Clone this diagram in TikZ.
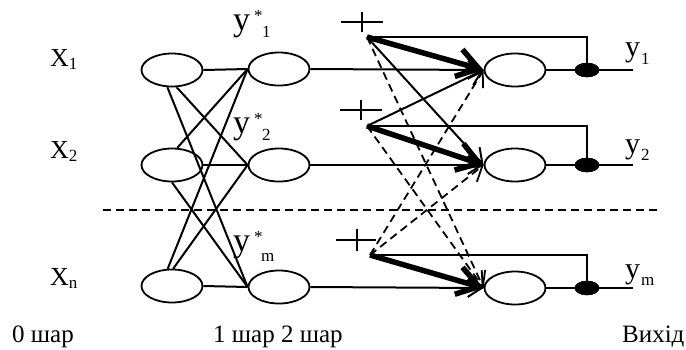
\documentclass[tikz,border=0pt]{standalone}
\usepackage{fontspec}
\setmainfont{Liberation Serif}
\usetikzlibrary{shapes.geometric,arrows.meta}
\newcommand\subsz{\fontsize{17}{17}\selectfont}
\begin{document}
\begin{tikzpicture}[x=1pt,y=-1pt,
  cell/.style={ellipse,draw,line width=1.8pt,minimum width=61pt,minimum height=33pt,inner sep=0pt},
  blackdot/.style={ellipse,fill=black,draw=black,minimum width=24pt,minimum height=14pt,inner sep=0pt},
  wire/.style={line width=2pt},
  thinarr/.style={line width=2pt,-{Straight Barb[length=14pt,width=18pt]}},
  thickarr/.style={line width=5.5pt,-{Straight Barb[length=21pt,width=28pt]}},
  dasharr/.style={line width=1.8pt,dash pattern=on 8pt off 5pt,-{Straight Barb[length=14pt,width=18pt]}},
  lbl/.style={anchor=base west,inner sep=0pt,font=\fontsize{25}{30}\selectfont},
  xlbl/.style={anchor=base west,inner sep=0pt,font=\fontsize{26}{30}\selectfont},
  ylbl/.style={anchor=base west,inner sep=0pt,font=\fontsize{34}{34}\selectfont},
  olbl/.style={anchor=base west,inner sep=0pt,font=\fontsize{30}{30}\selectfont},
]
\useasboundingbox (0,0) rectangle (686,349);

% layer 0
\node[cell] (x1) at (172,70) {};
\node[cell] (x2) at (172,165) {};
\node[cell] (x3) at (172,286) {};
% layer 1
\node[cell] (h1) at (279,69) {};
\node[cell] (h2) at (279,165) {};
\node[cell] (h3) at (279,287) {};
% layer 2
\node[cell] (n1) at (515,70) {};
\node[cell] (n2) at (515,165) {};
\node[cell] (n3) at (515,288) {};
% dots
\node[blackdot] (d1) at (587,70) {};
\node[blackdot] (d2) at (587,165) {};
\node[blackdot] (d3) at (587,288) {};
% output ends
\coordinate (o1) at (633,70);
\coordinate (o2) at (633,165);
\coordinate (o3) at (633,288);
% summation points
\coordinate (p1) at (367,37);
\coordinate (p2) at (367,126);
\coordinate (p3) at (370,255);

% separator
\draw[line width=1.6pt,dash pattern=on 8pt off 5pt] (103,210) -- (658,210);

% layer 0 -> layer 1
\draw[wire] (x1.east) -- (h1.west);
\draw[wire] (x1.-105) -- (h3.west);
\draw[wire] (x1.-75) -- (h2.west);
\draw[wire] (x2.73) -- (h1.west);
\draw[wire] (x2.east) -- (h2.west);
\draw[wire] (x2.-90) -- (h3.west);
\draw[wire] (x3.104) -- (h1.west);
\draw[wire] (x3.86) -- (h2.west);
\draw[wire] (x3.east) -- (h3.west);

% layer 1 -> layer 2
\draw[thinarr] (h1.east) -- (n1.west);
\draw[thinarr] (h2.east) -- (n2.west);
\draw[thinarr] (h3.east) -- (n3.west);

% cross connections
\draw[thinarr] (p1) -- (n2.west);
\draw[thinarr] (p2) -- (n1.west);
\draw[dasharr] (p1) -- (n3.west);
\draw[dasharr] (p2) -- (n3.west);
\draw[dasharr] (p3) -- (n1.west);
\draw[dasharr] (p3) -- (n2.west);

% thick own connections
\draw[thickarr] (p1) -- (n1.west);
\draw[thickarr] (p2) -- (n2.west);
\draw[thickarr] (p3) -- (n3.west);

% feedback
\draw[wire] (p1) -| (d1);
\draw[wire] (p2) -| (d2);
\draw[wire] (p3) -| (d3);

% outputs
\draw[wire] (n1) -- (d1) -- (o1);
\draw[wire] (n2) -- (d2) -- (o2);
\draw[wire] (n3) -- (d3) -- (o3);
\node[blackdot] at (d1) {};
\node[blackdot] at (d2) {};
\node[blackdot] at (d3) {};

% plus signs
\draw[wire] (341,22) -- (383,22) (362,12) -- (362,32);
\draw[wire] (340,110) -- (382,110) (361,100) -- (361,120);
\draw[wire] (336,240) -- (376,240) (357,229) -- (357,251);

% labels
\node[xlbl] (lx1) at (50,66) {X\raisebox{-3pt}{\subsz 1}};
\node[xlbl] (lx2) at (50,158) {X\raisebox{-3pt}{\subsz 2}};
\node[xlbl] (lx3) at (50,285) {X\raisebox{-3pt}{\subsz n}};

\node[ylbl] (ly1) at (233,30) {y\hspace{4pt}\rlap{\raisebox{9pt}{\subsz *}}\hspace{8pt}\raisebox{-7pt}{\subsz 1}};
\node[ylbl] (ly2) at (233,133) {y\hspace{4pt}\rlap{\raisebox{9pt}{\subsz *}}\hspace{8pt}\raisebox{-7pt}{\subsz 2}};
\node[ylbl] (ly3) at (233,251) {y\hspace{4pt}\rlap{\raisebox{9pt}{\subsz *}}\hspace{7pt}\raisebox{-10pt}{\subsz m}};

\node[olbl] (oy1) at (625,56) {y\hspace{1pt}\raisebox{-8pt}{\subsz 1}};
\node[olbl] (oy2) at (625,153) {y\hspace{1pt}\raisebox{-7pt}{\subsz 2}};
\node[olbl] (oy3) at (625,278) {y\hspace{1pt}\raisebox{-7pt}{\subsz m}};

\node[lbl] (b0) at (12,342) {0 шар};
\node[lbl] (b1) at (213,342) {1 шар 2 шар};
\node[lbl] (b2) at (622,342) {Вихід};
\end{tikzpicture}
\end{document}
